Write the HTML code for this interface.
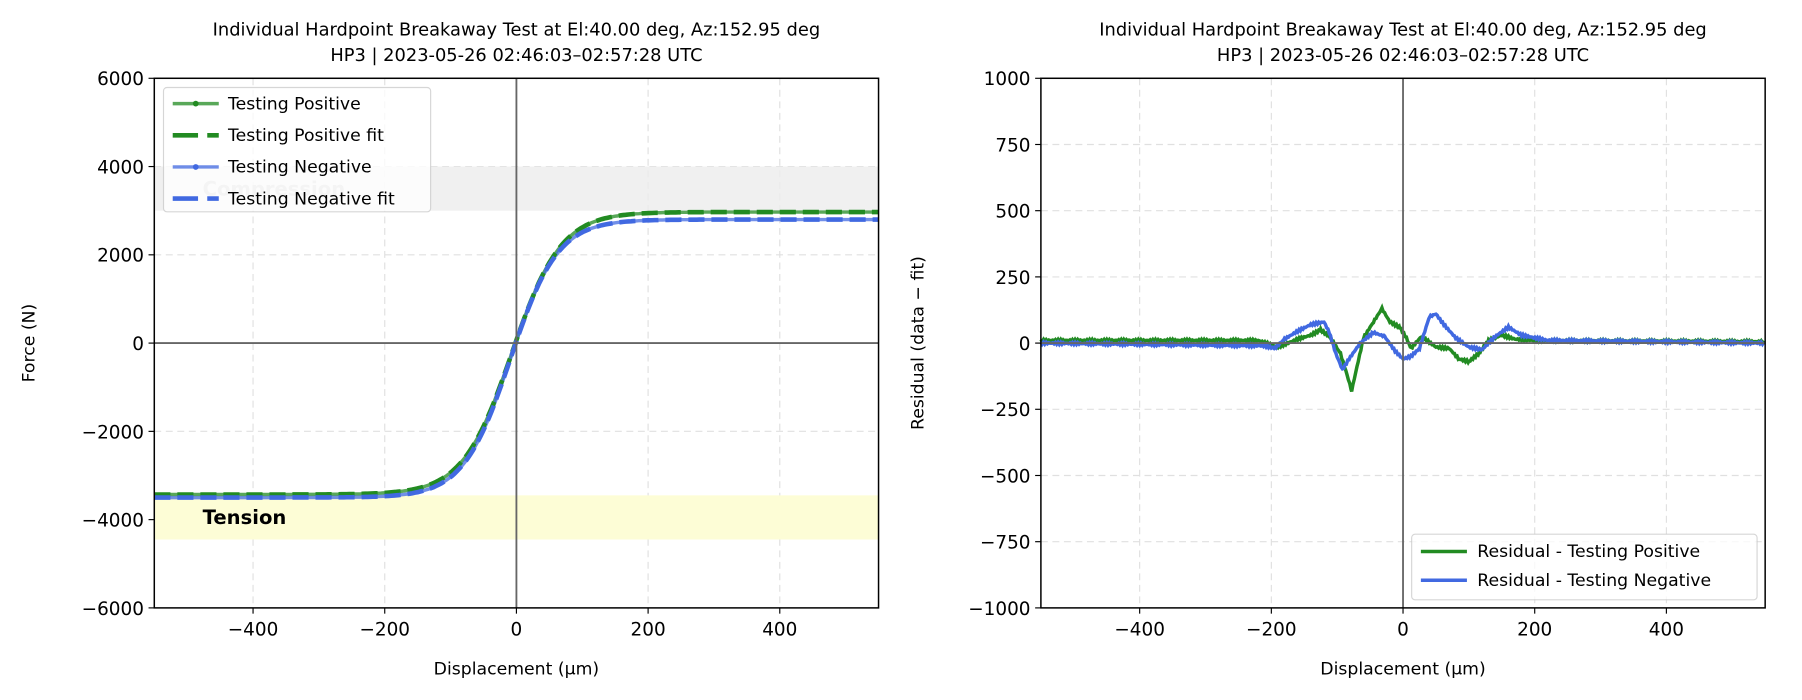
<!DOCTYPE html>
<html><head><meta charset="utf-8"><style>
body{margin:0;background:#fff;}
svg{font-family:"DejaVu Sans","Liberation Sans",sans-serif;display:block;}
</style></head><body>
<svg id="s" width="1802" height="700" viewBox="0 0 1565 608" preserveAspectRatio="none" xmlns="http://www.w3.org/2000/svg">
<rect width="1565" height="608" fill="#fff"/>
<g id="L"></g><g id="R"></g>
</svg>
<script>
const NS="http://www.w3.org/2000/svg";
function el(p,t,a,txt){const e=document.createElementNS(NS,t);for(const k in a)e.setAttribute(k,a[k]);if(txt!==undefined)e.textContent=txt;p.appendChild(e);return e;}
function axes(g,x0,x1,y0,y1,ymin,ymax,yticks){
 const X=v=>x0+(v+550)/1100*(x1-x0), Y=v=>y1-(v-ymin)/(ymax-ymin)*(y1-y0);
 [-400,-200,0,200,400].forEach(v=>el(g,'line',{x1:X(v),x2:X(v),y1:y0,y2:y1,stroke:'#e0e0e0','stroke-dasharray':'6,4','stroke-width':1}));
 yticks.forEach(v=>el(g,'line',{x1:x0,x2:x1,y1:Y(v),y2:Y(v),stroke:'#e0e0e0','stroke-dasharray':'6,4','stroke-width':1}));
 return {X,Y};
}
function frame(g,x0,x1,y0,y1,X,Y,yticks,title){
 el(g,'line',{x1:X(0),x2:X(0),y1:y0,y2:y1,stroke:'#666','stroke-width':1.6});
 el(g,'line',{x1:x0,x2:x1,y1:Y(0),y2:Y(0),stroke:'#666','stroke-width':1.6});
 el(g,'rect',{x:x0,y:y0,width:x1-x0,height:y1-y0,fill:'none',stroke:'#000','stroke-width':1.3});
 [-400,-200,0,200,400].forEach(v=>{el(g,'line',{x1:X(v),x2:X(v),y1:y1,y2:y1+5,stroke:'#000'});el(g,'text',{x:X(v),y:y1+24,'text-anchor':'middle','font-size':16},(v<0?'\u2212':'')+Math.abs(v));});
 yticks.forEach(v=>{el(g,'line',{x1:x0-5,x2:x0,y1:Y(v),y2:Y(v),stroke:'#000'});el(g,'text',{x:x0-9,y:Y(v)+6,'text-anchor':'end','font-size':16},(v<0?'\u2212':'')+Math.abs(v));});
 el(g,'text',{x:(x0+x1)/2,y:y1+58,'text-anchor':'middle','font-size':15},'Displacement (\u00b5m)');
 const cx=(x0+x1)/2;
 el(g,'text',{x:cx,y:31,'text-anchor':'middle','font-size':15.5},title[0]);
 el(g,'text',{x:cx,y:53,'text-anchor':'middle','font-size':15.5},title[1]);
}
const T=['Individual Hardpoint Breakaway Test at El:40.00 deg, Az:152.95 deg','HP3 | 2023-05-26 02:46:03\u201302:57:28 UTC'];
const gL=document.getElementById('L');
const yt1=[-6000,-4000,-2000,0,2000,4000,6000];
let a=axes(gL,134,763,68,528,-6000,6000,yt1);
el(gL,'rect',{x:134,y:a.Y(4000),width:629,height:a.Y(3000)-a.Y(4000),fill:'#ececec',opacity:0.8});
el(gL,'rect',{x:134,y:a.Y(-3450),width:629,height:a.Y(-4450)-a.Y(-3450),fill:'#fdfdd6'});
el(gL,'text',{x:176,y:170,'font-size':17,'font-weight':'bold',fill:'#c8c8c8'},'Compression');
el(gL,'text',{x:176,y:455,'font-size':17,'font-weight':'bold',fill:'#000'},'Tension');
function curve(lo,hi,c,w){let p=[];for(let x=-550;x<=550;x+=4){let m=(hi+lo)/2,am=(hi-lo)/2;let v=m+am*Math.tanh((x-c)/w);p.push(a.X(x).toFixed(1)+','+a.Y(v).toFixed(1));}return p.join(' ');}
el(gL,'polyline',{points:curve(-3430,2970,-7,75),fill:'none',stroke:'#228b22','stroke-width':3,opacity:0.75});
el(gL,'polyline',{points:curve(-3500,2800,-9,72),fill:'none',stroke:'#4169e1','stroke-width':3,opacity:0.75});
el(gL,'polyline',{points:curve(-3430,2970,-7,75),fill:'none',stroke:'#228b22','stroke-width':4,'stroke-dasharray':'14,6'});
el(gL,'polyline',{points:curve(-3500,2800,-9,72),fill:'none',stroke:'#4169e1','stroke-width':4,'stroke-dasharray':'14,6'});
frame(gL,134,763,68,528,a.X,a.Y,yt1,T);
el(gL,'text',{x:30,y:298,'text-anchor':'middle','font-size':15,transform:'rotate(-90 30 298)'},'Force (N)');
el(gL,'rect',{x:142,y:76,width:232,height:108,rx:3,fill:'#fff',opacity:0.8,stroke:'#ccc'});
const lg=[['Testing Positive','#228b22',0],['Testing Positive fit','#228b22',1],['Testing Negative','#4169e1',0],['Testing Negative fit','#4169e1',1]];
lg.forEach((l,i)=>{const y=90+i*27.5;
 if(l[2]){el(gL,'line',{x1:150,x2:190,y1:y,y2:y,stroke:l[1],'stroke-width':4,'stroke-dasharray':'22,8'});}
 else{el(gL,'line',{x1:150,x2:190,y1:y,y2:y,stroke:l[1],'stroke-width':3,opacity:0.75});el(gL,'circle',{cx:170,cy:y,r:2.5,fill:l[1]});}
 el(gL,'text',{x:198,y:y+5,'font-size':15},l[0]);});
const gR=document.getElementById('R');
const yt2=[-1000,-750,-500,-250,0,250,500,750,1000];
let b=axes(gR,904,1533,68,528,-1000,1000,yt2);
function res(pts){let p=[];for(let i=0;i<pts.length-1;i++){const [xa,ya]=pts[i],[xb,yb]=pts[i+1];for(let x=xa;x<xb;x+=2){let t=(x-xa)/(xb-xa);let v=ya+(yb-ya)*t+(Math.sin(x*1.7)*4);p.push(b.X(x).toFixed(1)+','+b.Y(v).toFixed(1));}}return p.join(' ');}
const G=[[-550,10],[-220,10],[-190,-15],[-160,15],[-140,30],[-125,50],[-110,20],[-95,-40],[-85,-120],[-78,-180],[-70,-90],[-60,20],[-45,80],[-32,130],[-20,80],[-5,60],[5,20],[12,-20],[28,25],[50,-15],[70,-20],[85,-60],[100,-70],[115,-40],[130,10],[150,30],[170,15],[200,10],[550,5]];
const B=[[-550,0],[-210,-10],[-195,-20],[-180,15],[-160,45],[-140,70],[-120,80],[-112,40],[-102,-40],[-92,-100],[-82,-60],[-65,0],[-45,40],[-28,25],[-12,-30],[0,-60],[12,-50],[25,-20],[40,100],[50,110],[62,70],[80,20],[100,-15],[120,-25],[140,25],[160,60],[180,30],[220,10],[550,0]];
el(gR,'polyline',{points:res(G),fill:'none',stroke:'#228b22','stroke-width':3});
el(gR,'polyline',{points:res(B),fill:'none',stroke:'#4169e1','stroke-width':3});
frame(gR,904,1533,68,528,b.X,b.Y,yt2,T);
el(gR,'text',{x:802,y:298,'text-anchor':'middle','font-size':15,transform:'rotate(-90 802 298)'},'Residual (data \u2212 fit)');
el(gR,'rect',{x:1226,y:464,width:300,height:57,rx:3,fill:'#fff',opacity:0.8,stroke:'#ccc'});
[['Residual - Testing Positive','#228b22'],['Residual - Testing Negative','#4169e1']].forEach((l,i)=>{const y=479+i*25;
 el(gR,'line',{x1:1234,x2:1274,y1:y,y2:y,stroke:l[1],'stroke-width':3});
 el(gR,'text',{x:1283,y:y+5,'font-size':15},l[0]);});
</script>
</body></html>
